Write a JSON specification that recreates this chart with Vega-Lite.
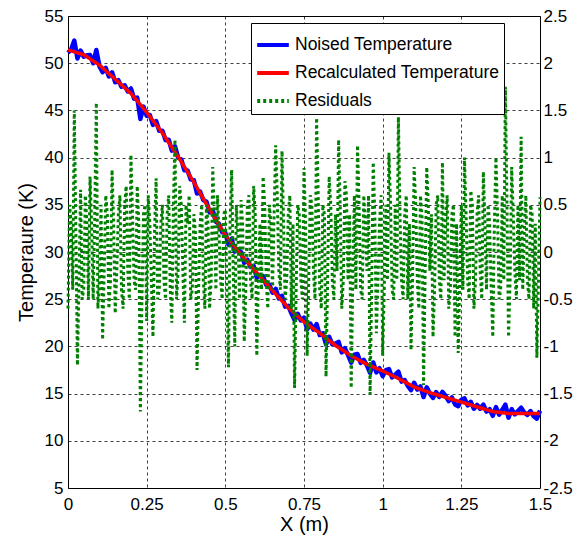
{
  "$schema": "https://vega.github.io/schema/vega-lite/v6.json",
  "width": 472,
  "height": 472,
  "autosize": {"type": "none"},
  "padding": {"left": 68, "top": 16, "right": 45, "bottom": 55},
  "background": "white",
  "config": {
    "font": "Liberation Sans",
    "view": {"stroke": "#000000", "strokeWidth": 1},
    "axis": {
      "labelFont": "Liberation Sans",
      "titleFont": "Liberation Sans",
      "labelFontSize": 17,
      "titleFontSize": 20,
      "labelColor": "#000000",
      "titleColor": "#000000",
      "titleFontWeight": "normal",
      "gridColor": "#000000",
      "gridDash": [3, 3],
      "gridOpacity": 0.75,
      "gridWidth": 1,
      "ticks": false,
      "domain": false,
      "labelFlush": false,
      "labelOverlap": false,
      "labelBound": false
    }
  },
  "datasets": {
    "temp": [
      {"x": 0.00, "noised": 51.1, "recalc": 51.4},
      {"x": 0.01, "noised": 51.45, "recalc": 51.3},
      {"x": 0.02, "noised": 52.4, "recalc": 51.2},
      {"x": 0.03, "noised": 50.5, "recalc": 51.1},
      {"x": 0.04, "noised": 51.33, "recalc": 51.0},
      {"x": 0.05, "noised": 50.7, "recalc": 50.9},
      {"x": 0.06, "noised": 50.83, "recalc": 50.68},
      {"x": 0.07, "noised": 50.86, "recalc": 50.46},
      {"x": 0.08, "noised": 49.99, "recalc": 50.24},
      {"x": 0.09, "noised": 51.4, "recalc": 50.02},
      {"x": 0.10, "noised": 49.65, "recalc": 49.8},
      {"x": 0.11, "noised": 49.04, "recalc": 49.5},
      {"x": 0.12, "noised": 49.5, "recalc": 49.2},
      {"x": 0.13, "noised": 48.6, "recalc": 48.9},
      {"x": 0.14, "noised": 49.04, "recalc": 48.6},
      {"x": 0.15, "noised": 47.98, "recalc": 48.3},
      {"x": 0.16, "noised": 48.2, "recalc": 48.0},
      {"x": 0.17, "noised": 47.5, "recalc": 47.7},
      {"x": 0.18, "noised": 47.65, "recalc": 47.4},
      {"x": 0.19, "noised": 47.0, "recalc": 47.1},
      {"x": 0.20, "noised": 47.32, "recalc": 46.8},
      {"x": 0.21, "noised": 46.25, "recalc": 46.4},
      {"x": 0.22, "noised": 46.35, "recalc": 46.0},
      {"x": 0.23, "noised": 44.1, "recalc": 45.6},
      {"x": 0.24, "noised": 45.4, "recalc": 45.2},
      {"x": 0.25, "noised": 44.44, "recalc": 44.8},
      {"x": 0.26, "noised": 44.51, "recalc": 44.36},
      {"x": 0.27, "noised": 43.47, "recalc": 43.92},
      {"x": 0.28, "noised": 43.87, "recalc": 43.48},
      {"x": 0.29, "noised": 42.84, "recalc": 43.04},
      {"x": 0.30, "noised": 42.85, "recalc": 42.6},
      {"x": 0.31, "noised": 41.85, "recalc": 42.1},
      {"x": 0.32, "noised": 41.9, "recalc": 41.6},
      {"x": 0.33, "noised": 40.73, "recalc": 41.1},
      {"x": 0.34, "noised": 41.2, "recalc": 40.6},
      {"x": 0.35, "noised": 40.0, "recalc": 40.1},
      {"x": 0.36, "noised": 39.81, "recalc": 39.56},
      {"x": 0.37, "noised": 38.65, "recalc": 39.02},
      {"x": 0.38, "noised": 38.63, "recalc": 38.48},
      {"x": 0.39, "noised": 37.69, "recalc": 37.94},
      {"x": 0.40, "noised": 37.6, "recalc": 37.4},
      {"x": 0.41, "noised": 36.2, "recalc": 36.82},
      {"x": 0.42, "noised": 36.39, "recalc": 36.24},
      {"x": 0.43, "noised": 35.51, "recalc": 35.66},
      {"x": 0.44, "noised": 35.33, "recalc": 35.08},
      {"x": 0.45, "noised": 34.2, "recalc": 34.5},
      {"x": 0.46, "noised": 34.41, "recalc": 33.96},
      {"x": 0.47, "noised": 33.22, "recalc": 33.42},
      {"x": 0.48, "noised": 32.98, "recalc": 32.88},
      {"x": 0.49, "noised": 32.09, "recalc": 32.34},
      {"x": 0.50, "noised": 32.03, "recalc": 31.8},
      {"x": 0.51, "noised": 30.77, "recalc": 31.38},
      {"x": 0.52, "noised": 31.4, "recalc": 30.96},
      {"x": 0.53, "noised": 30.04, "recalc": 30.54},
      {"x": 0.54, "noised": 30.22, "recalc": 30.12},
      {"x": 0.55, "noised": 29.98, "recalc": 29.7},
      {"x": 0.56, "noised": 28.85, "recalc": 29.32},
      {"x": 0.57, "noised": 29.19, "recalc": 28.94},
      {"x": 0.58, "noised": 28.41, "recalc": 28.56},
      {"x": 0.59, "noised": 28.53, "recalc": 28.18},
      {"x": 0.60, "noised": 27.25, "recalc": 27.8},
      {"x": 0.61, "noised": 27.57, "recalc": 27.42},
      {"x": 0.62, "noised": 27.44, "recalc": 27.04},
      {"x": 0.63, "noised": 26.51, "recalc": 26.66},
      {"x": 0.64, "noised": 26.53, "recalc": 26.28},
      {"x": 0.65, "noised": 25.7, "recalc": 25.9},
      {"x": 0.66, "noised": 26.1, "recalc": 25.54},
      {"x": 0.67, "noised": 25.08, "recalc": 25.18},
      {"x": 0.68, "noised": 25.36, "recalc": 24.82},
      {"x": 0.69, "noised": 24.21, "recalc": 24.46},
      {"x": 0.70, "noised": 24.3, "recalc": 24.1},
      {"x": 0.71, "noised": 23.5, "recalc": 23.8},
      {"x": 0.72, "noised": 22.78, "recalc": 23.5},
      {"x": 0.73, "noised": 23.45, "recalc": 23.2},
      {"x": 0.74, "noised": 22.75, "recalc": 22.9},
      {"x": 0.75, "noised": 23.05, "recalc": 22.6},
      {"x": 0.76, "noised": 21.81, "recalc": 22.36},
      {"x": 0.77, "noised": 22.42, "recalc": 22.12},
      {"x": 0.78, "noised": 21.78, "recalc": 21.88},
      {"x": 0.79, "noised": 22.35, "recalc": 21.64},
      {"x": 0.80, "noised": 21.2, "recalc": 21.4},
      {"x": 0.81, "noised": 21.39, "recalc": 21.14},
      {"x": 0.82, "noised": 20.22, "recalc": 20.88},
      {"x": 0.83, "noised": 21.02, "recalc": 20.62},
      {"x": 0.84, "noised": 20.21, "recalc": 20.36},
      {"x": 0.85, "noised": 20.3, "recalc": 20.1},
      {"x": 0.86, "noised": 20.48, "recalc": 19.88},
      {"x": 0.87, "noised": 19.36, "recalc": 19.66},
      {"x": 0.88, "noised": 19.82, "recalc": 19.44},
      {"x": 0.89, "noised": 19.07, "recalc": 19.22},
      {"x": 0.90, "noised": 18.28, "recalc": 19.0},
      {"x": 0.91, "noised": 19.12, "recalc": 18.82},
      {"x": 0.92, "noised": 19.2, "recalc": 18.64},
      {"x": 0.93, "noised": 18.26, "recalc": 18.46},
      {"x": 0.94, "noised": 18.58, "recalc": 18.28},
      {"x": 0.95, "noised": 18.0, "recalc": 18.1},
      {"x": 0.96, "noised": 17.2, "recalc": 17.96},
      {"x": 0.97, "noised": 18.3, "recalc": 17.82},
      {"x": 0.98, "noised": 17.25, "recalc": 17.68},
      {"x": 0.99, "noised": 17.69, "recalc": 17.54},
      {"x": 1.00, "noised": 16.85, "recalc": 17.4},
      {"x": 1.01, "noised": 17.49, "recalc": 17.24},
      {"x": 1.02, "noised": 17.6, "recalc": 17.08},
      {"x": 1.03, "noised": 16.72, "recalc": 16.92},
      {"x": 1.04, "noised": 17.01, "recalc": 16.76},
      {"x": 1.05, "noised": 17.32, "recalc": 16.6},
      {"x": 1.06, "noised": 16.27, "recalc": 16.42},
      {"x": 1.07, "noised": 16.44, "recalc": 16.24},
      {"x": 1.08, "noised": 15.81, "recalc": 16.06},
      {"x": 1.09, "noised": 15.36, "recalc": 15.88},
      {"x": 1.10, "noised": 16.15, "recalc": 15.7},
      {"x": 1.11, "noised": 15.43, "recalc": 15.58},
      {"x": 1.12, "noised": 15.76, "recalc": 15.46},
      {"x": 1.13, "noised": 14.64, "recalc": 15.34},
      {"x": 1.14, "noised": 15.67, "recalc": 15.22},
      {"x": 1.15, "noised": 15.0, "recalc": 15.1},
      {"x": 1.16, "noised": 14.55, "recalc": 15.0},
      {"x": 1.17, "noised": 15.15, "recalc": 14.9},
      {"x": 1.18, "noised": 14.65, "recalc": 14.8},
      {"x": 1.19, "noised": 15.18, "recalc": 14.7},
      {"x": 1.20, "noised": 14.75, "recalc": 14.6},
      {"x": 1.21, "noised": 14.2, "recalc": 14.5},
      {"x": 1.22, "noised": 14.6, "recalc": 14.4},
      {"x": 1.23, "noised": 13.85, "recalc": 14.3},
      {"x": 1.24, "noised": 13.67, "recalc": 14.2},
      {"x": 1.25, "noised": 14.35, "recalc": 14.1},
      {"x": 1.26, "noised": 14.5, "recalc": 14.0},
      {"x": 1.27, "noised": 13.75, "recalc": 13.9},
      {"x": 1.28, "noised": 14.13, "recalc": 13.8},
      {"x": 1.29, "noised": 13.4, "recalc": 13.7},
      {"x": 1.30, "noised": 13.8, "recalc": 13.6},
      {"x": 1.31, "noised": 13.4, "recalc": 13.5},
      {"x": 1.32, "noised": 13.83, "recalc": 13.4},
      {"x": 1.33, "noised": 13.1, "recalc": 13.3},
      {"x": 1.34, "noised": 13.35, "recalc": 13.2},
      {"x": 1.35, "noised": 12.65, "recalc": 13.1},
      {"x": 1.36, "noised": 13.56, "recalc": 13.06},
      {"x": 1.37, "noised": 12.77, "recalc": 13.02},
      {"x": 1.38, "noised": 13.28, "recalc": 12.98},
      {"x": 1.39, "noised": 13.82, "recalc": 12.94},
      {"x": 1.40, "noised": 12.45, "recalc": 12.9},
      {"x": 1.41, "noised": 13.35, "recalc": 12.9},
      {"x": 1.42, "noised": 12.8, "recalc": 12.9},
      {"x": 1.43, "noised": 13.15, "recalc": 12.9},
      {"x": 1.44, "noised": 13.51, "recalc": 12.9},
      {"x": 1.45, "noised": 13.0, "recalc": 12.9},
      {"x": 1.46, "noised": 12.75, "recalc": 12.9},
      {"x": 1.47, "noised": 13.15, "recalc": 12.9},
      {"x": 1.48, "noised": 12.6, "recalc": 12.9},
      {"x": 1.49, "noised": 12.34, "recalc": 12.9},
      {"x": 1.50, "noised": 13.19, "recalc": 12.9}
    ],
    "res": [
      {"x": 0.000, "r": -0.6}, {"x": 0.005, "r": 0.5}, {"x": 0.010, "r": 0.3}, {"x": 0.015, "r": -0.4},
      {"x": 0.020, "r": 1.5}, {"x": 0.025, "r": 0.2}, {"x": 0.030, "r": -1.2}, {"x": 0.035, "r": -0.3},
      {"x": 0.040, "r": 0.66}, {"x": 0.045, "r": -0.5}, {"x": 0.050, "r": -0.4}, {"x": 0.055, "r": 0.6},
      {"x": 0.060, "r": 0.3}, {"x": 0.065, "r": -0.5}, {"x": 0.070, "r": 0.8}, {"x": 0.075, "r": 0.3},
      {"x": 0.080, "r": -0.5}, {"x": 0.085, "r": 0.4}, {"x": 0.090, "r": 1.58}, {"x": 0.095, "r": -0.6},
      {"x": 0.100, "r": -0.3}, {"x": 0.105, "r": 0.5}, {"x": 0.110, "r": -0.93}, {"x": 0.115, "r": -0.2},
      {"x": 0.120, "r": 0.6}, {"x": 0.125, "r": 0.4}, {"x": 0.130, "r": -0.6}, {"x": 0.135, "r": -0.3},
      {"x": 0.140, "r": 0.87}, {"x": 0.145, "r": 0.3}, {"x": 0.150, "r": -0.65}, {"x": 0.155, "r": -0.2},
      {"x": 0.160, "r": 0.4}, {"x": 0.165, "r": 0.6}, {"x": 0.170, "r": -0.4}, {"x": 0.175, "r": -0.6},
      {"x": 0.180, "r": 0.5}, {"x": 0.185, "r": 0.7}, {"x": 0.190, "r": -0.2}, {"x": 0.195, "r": -0.5},
      {"x": 0.200, "r": 1.03}, {"x": 0.205, "r": 0.4}, {"x": 0.210, "r": -0.3}, {"x": 0.215, "r": -0.4},
      {"x": 0.220, "r": 0.7}, {"x": 0.225, "r": 0.3}, {"x": 0.230, "r": -1.69}, {"x": 0.235, "r": -0.5},
      {"x": 0.240, "r": 0.4}, {"x": 0.245, "r": 0.5}, {"x": 0.250, "r": -0.73}, {"x": 0.255, "r": 0.6},
      {"x": 0.260, "r": 0.3}, {"x": 0.265, "r": -0.3}, {"x": 0.270, "r": -0.9}, {"x": 0.275, "r": 0.2},
      {"x": 0.280, "r": 0.78}, {"x": 0.285, "r": -0.5}, {"x": 0.290, "r": -0.4}, {"x": 0.295, "r": 0.3},
      {"x": 0.300, "r": 0.5}, {"x": 0.305, "r": -0.3}, {"x": 0.310, "r": -0.5}, {"x": 0.315, "r": 0.4},
      {"x": 0.320, "r": 0.6}, {"x": 0.325, "r": -0.4}, {"x": 0.330, "r": -0.75}, {"x": 0.335, "r": 0.5},
      {"x": 0.340, "r": 1.19}, {"x": 0.345, "r": -0.5}, {"x": 0.350, "r": -0.2}, {"x": 0.355, "r": 0.7},
      {"x": 0.360, "r": 0.5}, {"x": 0.365, "r": -0.2}, {"x": 0.370, "r": -0.75}, {"x": 0.375, "r": 0.5},
      {"x": 0.380, "r": 0.3}, {"x": 0.385, "r": 0.6}, {"x": 0.390, "r": -0.5}, {"x": 0.395, "r": -0.4},
      {"x": 0.400, "r": 0.4}, {"x": 0.405, "r": 0.2}, {"x": 0.410, "r": -1.25}, {"x": 0.415, "r": -0.4},
      {"x": 0.420, "r": 0.3}, {"x": 0.425, "r": 0.5}, {"x": 0.430, "r": -0.3}, {"x": 0.435, "r": -0.6},
      {"x": 0.440, "r": 0.5}, {"x": 0.445, "r": 0.3}, {"x": 0.450, "r": -0.6}, {"x": 0.455, "r": -0.3},
      {"x": 0.460, "r": 0.9}, {"x": 0.465, "r": 0.4}, {"x": 0.470, "r": -0.4}, {"x": 0.475, "r": 0.6},
      {"x": 0.480, "r": 0.2}, {"x": 0.485, "r": -0.3}, {"x": 0.490, "r": -0.5}, {"x": 0.495, "r": 0.4},
      {"x": 0.500, "r": 0.45}, {"x": 0.505, "r": -0.4}, {"x": 0.510, "r": -1.22}, {"x": 0.515, "r": 0.3},
      {"x": 0.520, "r": 0.87}, {"x": 0.525, "r": -0.2}, {"x": 0.530, "r": -1.0}, {"x": 0.535, "r": 0.5},
      {"x": 0.540, "r": 0.2}, {"x": 0.545, "r": -0.5}, {"x": 0.550, "r": 0.55}, {"x": 0.555, "r": 0.3},
      {"x": 0.560, "r": -0.95}, {"x": 0.565, "r": -0.4}, {"x": 0.570, "r": 0.5}, {"x": 0.575, "r": 0.6},
      {"x": 0.580, "r": -0.3}, {"x": 0.585, "r": -0.5}, {"x": 0.590, "r": 0.7}, {"x": 0.595, "r": 0.4},
      {"x": 0.600, "r": -1.1}, {"x": 0.605, "r": -0.3}, {"x": 0.610, "r": 0.3}, {"x": 0.615, "r": -0.4},
      {"x": 0.620, "r": 0.8}, {"x": 0.625, "r": 0.5}, {"x": 0.630, "r": -0.3}, {"x": 0.635, "r": -0.6},
      {"x": 0.640, "r": 0.5}, {"x": 0.645, "r": 0.3}, {"x": 0.650, "r": -0.4}, {"x": 0.655, "r": 0.4},
      {"x": 0.660, "r": 1.13}, {"x": 0.665, "r": 0.6}, {"x": 0.670, "r": -0.2}, {"x": 0.675, "r": -0.4},
      {"x": 0.680, "r": 1.07}, {"x": 0.685, "r": 0.3}, {"x": 0.690, "r": -0.5}, {"x": 0.695, "r": -0.3},
      {"x": 0.700, "r": 0.4}, {"x": 0.705, "r": 0.6}, {"x": 0.710, "r": -0.6}, {"x": 0.715, "r": 0.3},
      {"x": 0.720, "r": -1.44}, {"x": 0.725, "r": -0.4}, {"x": 0.730, "r": 0.5}, {"x": 0.735, "r": 0.4},
      {"x": 0.740, "r": -0.3}, {"x": 0.745, "r": -0.5}, {"x": 0.750, "r": 0.89}, {"x": 0.755, "r": 0.3},
      {"x": 0.760, "r": -1.1}, {"x": 0.765, "r": -0.3}, {"x": 0.770, "r": 0.6}, {"x": 0.775, "r": 0.5},
      {"x": 0.780, "r": -0.2}, {"x": 0.785, "r": -0.5}, {"x": 0.790, "r": 1.42}, {"x": 0.795, "r": 0.6},
      {"x": 0.800, "r": -0.4}, {"x": 0.805, "r": -0.6}, {"x": 0.810, "r": 0.5}, {"x": 0.815, "r": 0.4},
      {"x": 0.820, "r": -1.32}, {"x": 0.825, "r": -0.3}, {"x": 0.830, "r": 0.8}, {"x": 0.835, "r": 0.5},
      {"x": 0.840, "r": -0.3}, {"x": 0.845, "r": -0.5}, {"x": 0.850, "r": 0.4}, {"x": 0.855, "r": -0.2},
      {"x": 0.860, "r": 1.19}, {"x": 0.865, "r": 0.5}, {"x": 0.870, "r": -0.6}, {"x": 0.875, "r": -0.3},
      {"x": 0.880, "r": 0.75}, {"x": 0.885, "r": 0.6}, {"x": 0.890, "r": -0.3}, {"x": 0.895, "r": 0.4},
      {"x": 0.900, "r": -1.44}, {"x": 0.905, "r": -0.3}, {"x": 0.910, "r": 0.6}, {"x": 0.915, "r": -0.4},
      {"x": 0.920, "r": 1.13}, {"x": 0.925, "r": 0.5}, {"x": 0.930, "r": -0.4}, {"x": 0.935, "r": -0.5},
      {"x": 0.940, "r": 0.6}, {"x": 0.945, "r": 0.3}, {"x": 0.950, "r": -0.2}, {"x": 0.955, "r": 0.6},
      {"x": 0.960, "r": -1.51}, {"x": 0.965, "r": -0.4}, {"x": 0.970, "r": 0.95}, {"x": 0.975, "r": 0.4},
      {"x": 0.980, "r": -0.86}, {"x": 0.985, "r": -0.3}, {"x": 0.990, "r": 0.3}, {"x": 0.995, "r": 0.6},
      {"x": 1.000, "r": -1.1}, {"x": 1.005, "r": -0.4}, {"x": 1.010, "r": 0.5}, {"x": 1.015, "r": -0.3},
      {"x": 1.020, "r": 1.05}, {"x": 1.025, "r": 0.5}, {"x": 1.030, "r": -0.4}, {"x": 1.035, "r": -0.5},
      {"x": 1.040, "r": 0.5}, {"x": 1.045, "r": -0.3}, {"x": 1.050, "r": 1.43}, {"x": 1.055, "r": 0.4},
      {"x": 1.060, "r": -0.3}, {"x": 1.065, "r": -0.5}, {"x": 1.070, "r": 0.4}, {"x": 1.075, "r": 0.6},
      {"x": 1.080, "r": -0.5}, {"x": 1.085, "r": 0.3}, {"x": 1.090, "r": -1.04}, {"x": 1.095, "r": -0.3},
      {"x": 1.100, "r": 0.9}, {"x": 1.105, "r": 0.5}, {"x": 1.110, "r": -0.3}, {"x": 1.115, "r": -0.6},
      {"x": 1.120, "r": 0.6}, {"x": 1.125, "r": 0.4}, {"x": 1.130, "r": -1.41}, {"x": 1.135, "r": -0.2},
      {"x": 1.140, "r": 0.9}, {"x": 1.145, "r": 0.5}, {"x": 1.150, "r": -0.2}, {"x": 1.155, "r": 0.4},
      {"x": 1.160, "r": -0.9}, {"x": 1.165, "r": -0.4}, {"x": 1.170, "r": 0.5}, {"x": 1.175, "r": 0.6},
      {"x": 1.180, "r": -0.3}, {"x": 1.185, "r": -0.5}, {"x": 1.190, "r": 0.95}, {"x": 1.195, "r": -0.3},
      {"x": 1.200, "r": 0.3}, {"x": 1.205, "r": 0.6}, {"x": 1.210, "r": -0.6}, {"x": 1.215, "r": -0.4},
      {"x": 1.220, "r": 0.4}, {"x": 1.225, "r": 0.5}, {"x": 1.230, "r": -0.9}, {"x": 1.235, "r": 0.3},
      {"x": 1.240, "r": -1.07}, {"x": 1.245, "r": -0.3}, {"x": 1.250, "r": 0.5}, {"x": 1.255, "r": -0.4},
      {"x": 1.260, "r": 1.0}, {"x": 1.265, "r": 0.4}, {"x": 1.270, "r": -0.3}, {"x": 1.275, "r": -0.5},
      {"x": 1.280, "r": 0.65}, {"x": 1.285, "r": 0.5}, {"x": 1.290, "r": -0.6}, {"x": 1.295, "r": -0.3},
      {"x": 1.300, "r": 0.4}, {"x": 1.305, "r": 0.6}, {"x": 1.310, "r": -0.2}, {"x": 1.315, "r": -0.5},
      {"x": 1.320, "r": 0.85}, {"x": 1.325, "r": 0.3}, {"x": 1.330, "r": -0.4}, {"x": 1.335, "r": 0.5},
      {"x": 1.340, "r": 0.3}, {"x": 1.345, "r": -0.4}, {"x": 1.350, "r": -0.9}, {"x": 1.355, "r": 0.3},
      {"x": 1.360, "r": 1.0}, {"x": 1.365, "r": 0.4}, {"x": 1.370, "r": -0.5}, {"x": 1.375, "r": -0.4},
      {"x": 1.380, "r": 0.6}, {"x": 1.385, "r": -0.3}, {"x": 1.390, "r": 1.75}, {"x": 1.395, "r": 0.5},
      {"x": 1.400, "r": -0.9}, {"x": 1.405, "r": -0.3}, {"x": 1.410, "r": 0.9}, {"x": 1.415, "r": 0.4},
      {"x": 1.420, "r": -0.2}, {"x": 1.425, "r": -0.5}, {"x": 1.430, "r": 0.5}, {"x": 1.435, "r": -0.3},
      {"x": 1.440, "r": 1.22}, {"x": 1.445, "r": -0.4}, {"x": 1.450, "r": 0.2}, {"x": 1.455, "r": 0.6},
      {"x": 1.460, "r": -0.3}, {"x": 1.465, "r": -0.5}, {"x": 1.470, "r": 0.5}, {"x": 1.475, "r": 0.4},
      {"x": 1.480, "r": -0.6}, {"x": 1.485, "r": 0.3}, {"x": 1.490, "r": -1.12}, {"x": 1.495, "r": -0.3},
      {"x": 1.500, "r": 0.58}
    ]
  },
  "layer": [
    {
      "data": {"name": "temp"},
      "layer": [
        {
          "mark": {"type": "line", "strokeWidth": 4.5, "strokeJoin": "round"},
          "encoding": {
            "x": {"field": "x", "type": "quantitative", "scale": {"domain": [0, 1.5], "nice": false, "zero": false},
                  "axis": {"title": "X (m)", "values": [0, 0.25, 0.5, 0.75, 1, 1.25, 1.5], "labelExpr": "format(datum.value, '.2~f')", "labelPadding": 8, "titlePadding": 2, "grid": true}},
            "y": {"field": "noised", "type": "quantitative", "scale": {"domain": [5, 55], "nice": false, "zero": false},
                  "axis": {"title": "Temperaure (K)", "values": [5, 10, 15, 20, 25, 30, 35, 40, 45, 50, 55], "labelPadding": 5, "titlePadding": 8, "grid": true}},
            "color": {"datum": "Noised Temperature", "type": "nominal",
                      "scale": {"domain": ["Noised Temperature", "Recalculated Temperature", "Residuals"], "range": ["#0000ff", "#ff0000", "#008000"]},
                      "legend": {"title": null, "orient": "none", "legendX": 183, "legendY": 7, "symbolType": "stroke", "symbolSize": 1000,
                                 "symbolStrokeWidth": 4, "labelFontSize": 17.5, "labelFont": "Liberation Sans", "labelColor": "#000000", "labelLimit": 0,
                                 "fillColor": "#ffffff", "strokeColor": "#000000", "padding": 4, "rowPadding": 1, "labelOffset": 4,
                                 "encode": {"symbols": {"update": {"strokeDash": {"signal": "datum.value == 'Residuals' ? [3, 3] : [1, 0]"}}}}}}
          }
        },
        {
          "mark": {"type": "line", "strokeWidth": 3.5, "strokeJoin": "round"},
          "encoding": {
            "x": {"field": "x", "type": "quantitative"},
            "y": {"field": "recalc", "type": "quantitative"},
            "color": {"datum": "Recalculated Temperature", "type": "nominal"}
          }
        }
      ]
    },
    {
      "data": {"name": "res"},
      "mark": {"type": "line", "strokeWidth": 3, "strokeDash": [3, 3], "strokeCap": "butt"},
      "encoding": {
        "x": {"field": "x", "type": "quantitative"},
        "y": {"field": "r", "type": "quantitative", "scale": {"domain": [-2.5, 2.5], "nice": false, "zero": false},
              "axis": {"orient": "right", "title": null, "grid": false, "values": [-2.5, -2, -1.5, -1, -0.5, 0, 0.5, 1, 1.5, 2, 2.5],
                       "labelPadding": 3, "labelExpr": "(datum.value < 0 ? '-' : '') + format(abs(datum.value), '~g')"}},
        "color": {"datum": "Residuals", "type": "nominal"}
      }
    }
  ],
  "resolve": {"scale": {"y": "independent"}}
}
